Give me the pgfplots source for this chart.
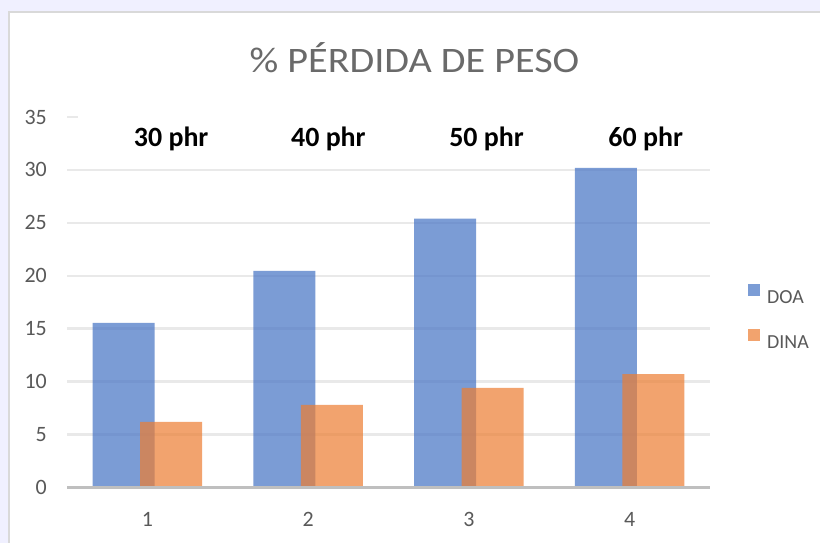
\documentclass[border=0pt]{standalone}
\usepackage{pgfplots}
\pgfplotsset{compat=1.18}
\usepackage{fontspec}
\setmainfont{Carlito}
\definecolor{doa}{HTML}{4472C4}
\definecolor{dina}{HTML}{ED7D31}
\definecolor{txt}{HTML}{595959}
\definecolor{gridc}{HTML}{E9E9E9}
\definecolor{axc}{HTML}{BFBFBF}
\begin{document}
\begin{tikzpicture}
\useasboundingbox (0,0) rectangle (820bp,543bp);
\fill[blue!6] (0,0) rectangle (820bp,543bp);
\fill[white, draw=gray!30, line width=2bp] (9bp,-5bp) rectangle (830bp,531bp);
\node[anchor=base, text=txt!90, font=\fontsize{36}{36}\selectfont, xscale=1.12] at (414.5bp,470.3bp) {\% PÉRDIDA DE PESO};
\begin{axis}[
  at={(67bp,55.5bp)}, anchor=south west,
  scale only axis, width=643bp, height=370.5bp,
  xmin=0.5, xmax=4.5, ymin=0, ymax=35,
  xtick={1,2,3,4}, ytick={0,5,...,35},
  major tick length=0pt,
  axis line style={draw=none},
  ymajorgrids, grid style={gridc, line width=2.5bp},
  /pgf/number format/assume math mode=true,
  tick label style={text=txt, font=\fontsize{22}{22}\selectfont, inner sep=0pt},
  yticklabel style={anchor=east, xshift=-20bp},
  xticklabel style={anchor=north, yshift=-25bp},
  legend style={at={(rel axis cs:1.0544,0.462)}, anchor=west, draw=none, fill=none,
    font=\fontsize{20}{20}\selectfont, text=txt, row sep=26bp, column sep=0pt,
    nodes={inner sep=0pt, text height=14bp, text depth=0pt, anchor=west}},
  legend image code/.code={\fill[#1] (0bp,0bp) rectangle (12bp,12bp); \path (19bp,0bp);},
  clip=false,
]
\addplot[ybar, bar width=0.386, bar shift=-0.148, draw=none, fill=doa, fill opacity=0.7] coordinates {(1,15.55) (2,20.46) (3,25.4) (4,30.2)};
\addlegendentry{DOA}
\addplot[ybar, bar width=0.386, bar shift=0.148, draw=none, fill=dina, fill opacity=0.7] coordinates {(1,6.19) (2,7.8) (3,9.4) (4,10.7)};
\addlegendentry{DINA}
\draw[axc, line width=3bp] (rel axis cs:0,0) -- (rel axis cs:1,0);
\fill[white] ([xshift=11bp]rel axis cs:0,0.985) rectangle ([yshift=3bp]rel axis cs:1,1);
\node[anchor=base, font=\fontsize{28}{28}\selectfont\bfseries, text=black] at (axis cs:1.148,32.26) {30 phr};
\node[anchor=base, font=\fontsize{28}{28}\selectfont\bfseries, text=black] at (axis cs:2.126,32.26) {40 phr};
\node[anchor=base, font=\fontsize{28}{28}\selectfont\bfseries, text=black] at (axis cs:3.11,32.26) {50 phr};
\node[anchor=base, font=\fontsize{28}{28}\selectfont\bfseries, text=black] at (axis cs:4.10,32.26) {60 phr};
\end{axis}
\end{tikzpicture}
\end{document}
